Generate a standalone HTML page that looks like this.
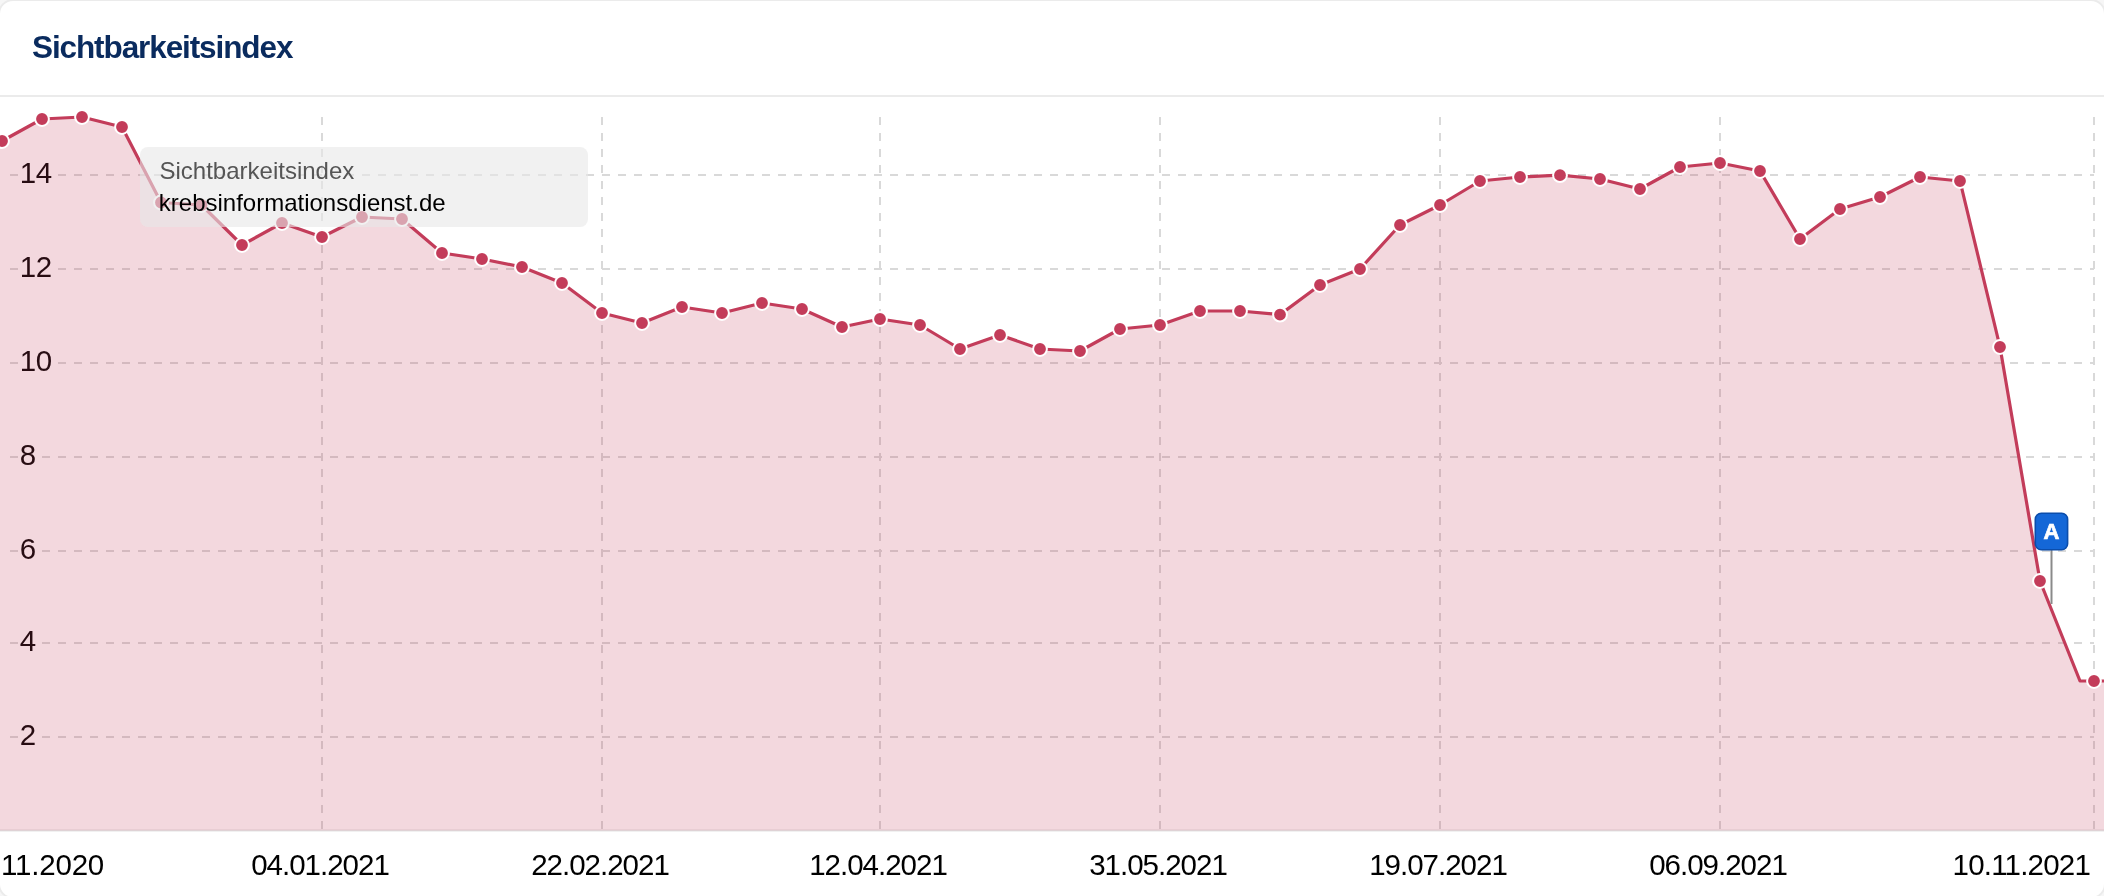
<!DOCTYPE html>
<html><head><meta charset="utf-8"><title>Sichtbarkeitsindex</title>
<style>
html,body{margin:0;padding:0;width:2104px;height:896px;overflow:hidden;background:#f6f6f6;font-family:"Liberation Sans",sans-serif}
.card{position:absolute;left:-2px;top:-1px;width:2104px;height:896px;border:2px solid #ebebeb;border-radius:15px;background:#fff;overflow:hidden}
.title{will-change:transform;position:absolute;left:32px;top:29px;font:bold 31.5px "Liberation Sans",sans-serif;color:#0a2b5e;letter-spacing:-1.1px;white-space:nowrap}
.sep{position:absolute;left:0;top:95px;width:2104px;height:2px;background:#ebebeb}
</style></head><body>
<div class="card"></div>
<div class="title">Sichtbarkeitsindex</div>
<div class="sep"></div>
<svg width="2104" height="896" viewBox="0 0 2104 896" style="position:absolute;left:0;top:0;will-change:transform"><line x1="10" y1="175" x2="2094" y2="175" stroke="#d9d9d9" stroke-width="2" stroke-dasharray="8 8"/><line x1="10" y1="269" x2="2094" y2="269" stroke="#d9d9d9" stroke-width="2" stroke-dasharray="8 8"/><line x1="10" y1="363" x2="2094" y2="363" stroke="#d9d9d9" stroke-width="2" stroke-dasharray="8 8"/><line x1="10" y1="457" x2="2094" y2="457" stroke="#d9d9d9" stroke-width="2" stroke-dasharray="8 8"/><line x1="10" y1="551" x2="2094" y2="551" stroke="#d9d9d9" stroke-width="2" stroke-dasharray="8 8"/><line x1="10" y1="643" x2="2094" y2="643" stroke="#d9d9d9" stroke-width="2" stroke-dasharray="8 8"/><line x1="10" y1="737" x2="2094" y2="737" stroke="#d9d9d9" stroke-width="2" stroke-dasharray="8 8"/><line x1="322" y1="117" x2="322" y2="830" stroke="#d9d9d9" stroke-width="2" stroke-dasharray="8 8"/><line x1="602" y1="117" x2="602" y2="830" stroke="#d9d9d9" stroke-width="2" stroke-dasharray="8 8"/><line x1="880" y1="117" x2="880" y2="830" stroke="#d9d9d9" stroke-width="2" stroke-dasharray="8 8"/><line x1="1160" y1="117" x2="1160" y2="830" stroke="#d9d9d9" stroke-width="2" stroke-dasharray="8 8"/><line x1="1440" y1="117" x2="1440" y2="830" stroke="#d9d9d9" stroke-width="2" stroke-dasharray="8 8"/><line x1="1720" y1="117" x2="1720" y2="830" stroke="#d9d9d9" stroke-width="2" stroke-dasharray="8 8"/><line x1="2094" y1="117" x2="2094" y2="830" stroke="#d9d9d9" stroke-width="2" stroke-dasharray="8 8"/><rect x="20" y="171" width="32" height="8" fill="#fff"/><text x="19.8" y="183" font-family="Liberation Sans" font-size="29.5" fill="#000" letter-spacing="-0.5">14</text><rect x="20" y="265" width="32" height="8" fill="#fff"/><text x="19.8" y="277" font-family="Liberation Sans" font-size="29.5" fill="#000" letter-spacing="-0.5">12</text><rect x="20" y="359" width="32" height="8" fill="#fff"/><text x="19.8" y="371" font-family="Liberation Sans" font-size="29.5" fill="#000" letter-spacing="-0.5">10</text><rect x="20" y="453" width="17" height="8" fill="#fff"/><text x="19.8" y="465" font-family="Liberation Sans" font-size="29.5" fill="#000" letter-spacing="-0.5">8</text><rect x="20" y="547" width="17" height="8" fill="#fff"/><text x="19.8" y="559" font-family="Liberation Sans" font-size="29.5" fill="#000" letter-spacing="-0.5">6</text><rect x="20" y="639" width="17" height="8" fill="#fff"/><text x="19.8" y="651" font-family="Liberation Sans" font-size="29.5" fill="#000" letter-spacing="-0.5">4</text><rect x="20" y="733" width="17" height="8" fill="#fff"/><text x="19.8" y="745" font-family="Liberation Sans" font-size="29.5" fill="#000" letter-spacing="-0.5">2</text><line x1="0" y1="830.5" x2="2104" y2="830.5" stroke="#e3e3e3" stroke-width="2"/><path d="M-20 830.5 L-20 152 L2 141 L42 119 L82 117 L122 127 L161 202.5 L201.5 205 L242 245 L282 223 L322 237 L362 217 L402 219 L442 253 L482 259 L522 267 L562 283 L602 313 L642 323 L682 307 L722 313 L762 303 L802 309 L842 327 L880 319 L920 325 L960 349 L1000 335 L1040 349 L1080 351 L1120 329 L1160 325 L1200 311 L1240 311 L1280 314.6 L1320 285 L1360 269 L1400 225 L1440 205 L1480 181 L1520 177 L1560 175.2 L1600 179 L1640 189 L1680 167 L1720 163 L1760 171 L1800 239 L1840 209 L1880 197 L1920 177 L1960 181 L2000 347 L2040 581 L2080 681 L2094 681 L2120 681 L2120 830.5 Z" fill="rgba(195,60,90,0.2)"/><path d="M-20 152 L2 141 L42 119 L82 117 L122 127 L161 202.5 L201.5 205 L242 245 L282 223 L322 237 L362 217 L402 219 L442 253 L482 259 L522 267 L562 283 L602 313 L642 323 L682 307 L722 313 L762 303 L802 309 L842 327 L880 319 L920 325 L960 349 L1000 335 L1040 349 L1080 351 L1120 329 L1160 325 L1200 311 L1240 311 L1280 314.6 L1320 285 L1360 269 L1400 225 L1440 205 L1480 181 L1520 177 L1560 175.2 L1600 179 L1640 189 L1680 167 L1720 163 L1760 171 L1800 239 L1840 209 L1880 197 L1920 177 L1960 181 L2000 347 L2040 581 L2080 681 L2094 681 L2120 681" fill="none" stroke="#c33c5a" stroke-width="3.2" stroke-linejoin="round" stroke-linecap="round"/><circle cx="2" cy="141" r="6.9" fill="#c33c5a" stroke="#fff" stroke-width="2"/><circle cx="42" cy="119" r="6.9" fill="#c33c5a" stroke="#fff" stroke-width="2"/><circle cx="82" cy="117" r="6.9" fill="#c33c5a" stroke="#fff" stroke-width="2"/><circle cx="122" cy="127" r="6.9" fill="#c33c5a" stroke="#fff" stroke-width="2"/><circle cx="161" cy="202.5" r="6.9" fill="#c33c5a" stroke="#fff" stroke-width="2"/><circle cx="201.5" cy="205" r="6.9" fill="#c33c5a" stroke="#fff" stroke-width="2"/><circle cx="242" cy="245" r="6.9" fill="#c33c5a" stroke="#fff" stroke-width="2"/><circle cx="282" cy="223" r="6.9" fill="#c33c5a" stroke="#fff" stroke-width="2"/><circle cx="322" cy="237" r="6.9" fill="#c33c5a" stroke="#fff" stroke-width="2"/><circle cx="362" cy="217" r="6.9" fill="#c33c5a" stroke="#fff" stroke-width="2"/><circle cx="402" cy="219" r="6.9" fill="#c33c5a" stroke="#fff" stroke-width="2"/><circle cx="442" cy="253" r="6.9" fill="#c33c5a" stroke="#fff" stroke-width="2"/><circle cx="482" cy="259" r="6.9" fill="#c33c5a" stroke="#fff" stroke-width="2"/><circle cx="522" cy="267" r="6.9" fill="#c33c5a" stroke="#fff" stroke-width="2"/><circle cx="562" cy="283" r="6.9" fill="#c33c5a" stroke="#fff" stroke-width="2"/><circle cx="602" cy="313" r="6.9" fill="#c33c5a" stroke="#fff" stroke-width="2"/><circle cx="642" cy="323" r="6.9" fill="#c33c5a" stroke="#fff" stroke-width="2"/><circle cx="682" cy="307" r="6.9" fill="#c33c5a" stroke="#fff" stroke-width="2"/><circle cx="722" cy="313" r="6.9" fill="#c33c5a" stroke="#fff" stroke-width="2"/><circle cx="762" cy="303" r="6.9" fill="#c33c5a" stroke="#fff" stroke-width="2"/><circle cx="802" cy="309" r="6.9" fill="#c33c5a" stroke="#fff" stroke-width="2"/><circle cx="842" cy="327" r="6.9" fill="#c33c5a" stroke="#fff" stroke-width="2"/><circle cx="880" cy="319" r="6.9" fill="#c33c5a" stroke="#fff" stroke-width="2"/><circle cx="920" cy="325" r="6.9" fill="#c33c5a" stroke="#fff" stroke-width="2"/><circle cx="960" cy="349" r="6.9" fill="#c33c5a" stroke="#fff" stroke-width="2"/><circle cx="1000" cy="335" r="6.9" fill="#c33c5a" stroke="#fff" stroke-width="2"/><circle cx="1040" cy="349" r="6.9" fill="#c33c5a" stroke="#fff" stroke-width="2"/><circle cx="1080" cy="351" r="6.9" fill="#c33c5a" stroke="#fff" stroke-width="2"/><circle cx="1120" cy="329" r="6.9" fill="#c33c5a" stroke="#fff" stroke-width="2"/><circle cx="1160" cy="325" r="6.9" fill="#c33c5a" stroke="#fff" stroke-width="2"/><circle cx="1200" cy="311" r="6.9" fill="#c33c5a" stroke="#fff" stroke-width="2"/><circle cx="1240" cy="311" r="6.9" fill="#c33c5a" stroke="#fff" stroke-width="2"/><circle cx="1280" cy="314.6" r="6.9" fill="#c33c5a" stroke="#fff" stroke-width="2"/><circle cx="1320" cy="285" r="6.9" fill="#c33c5a" stroke="#fff" stroke-width="2"/><circle cx="1360" cy="269" r="6.9" fill="#c33c5a" stroke="#fff" stroke-width="2"/><circle cx="1400" cy="225" r="6.9" fill="#c33c5a" stroke="#fff" stroke-width="2"/><circle cx="1440" cy="205" r="6.9" fill="#c33c5a" stroke="#fff" stroke-width="2"/><circle cx="1480" cy="181" r="6.9" fill="#c33c5a" stroke="#fff" stroke-width="2"/><circle cx="1520" cy="177" r="6.9" fill="#c33c5a" stroke="#fff" stroke-width="2"/><circle cx="1560" cy="175.2" r="6.9" fill="#c33c5a" stroke="#fff" stroke-width="2"/><circle cx="1600" cy="179" r="6.9" fill="#c33c5a" stroke="#fff" stroke-width="2"/><circle cx="1640" cy="189" r="6.9" fill="#c33c5a" stroke="#fff" stroke-width="2"/><circle cx="1680" cy="167" r="6.9" fill="#c33c5a" stroke="#fff" stroke-width="2"/><circle cx="1720" cy="163" r="6.9" fill="#c33c5a" stroke="#fff" stroke-width="2"/><circle cx="1760" cy="171" r="6.9" fill="#c33c5a" stroke="#fff" stroke-width="2"/><circle cx="1800" cy="239" r="6.9" fill="#c33c5a" stroke="#fff" stroke-width="2"/><circle cx="1840" cy="209" r="6.9" fill="#c33c5a" stroke="#fff" stroke-width="2"/><circle cx="1880" cy="197" r="6.9" fill="#c33c5a" stroke="#fff" stroke-width="2"/><circle cx="1920" cy="177" r="6.9" fill="#c33c5a" stroke="#fff" stroke-width="2"/><circle cx="1960" cy="181" r="6.9" fill="#c33c5a" stroke="#fff" stroke-width="2"/><circle cx="2000" cy="347" r="6.9" fill="#c33c5a" stroke="#fff" stroke-width="2"/><circle cx="2040" cy="581" r="6.9" fill="#c33c5a" stroke="#fff" stroke-width="2"/><circle cx="2094" cy="681" r="6.9" fill="#c33c5a" stroke="#fff" stroke-width="2"/><line x1="2051.5" y1="550" x2="2051.5" y2="604" stroke="#8a8a8a" stroke-width="2"/><rect x="2035.3" y="513.3" width="32.3" height="36.4" rx="6" fill="#1467d7" stroke="#0b4dab" stroke-width="1.6"/><text x="2051.5" y="538.8" text-anchor="middle" font-family="Liberation Sans" font-weight="bold" font-size="22" fill="#fff" stroke="#fff" stroke-width="0.7">A</text><rect x="140" y="147" width="448" height="80" rx="8" fill="rgba(232,232,232,0.6)"/><text x="159.5" y="178.7" font-family="Liberation Sans" font-size="24" fill="#555">Sichtbarkeitsindex</text><text x="158.8" y="210.8" font-family="Liberation Sans" font-size="24" fill="#000">krebsinformationsdienst.de</text><text x="320" y="875" text-anchor="middle" font-family="Liberation Sans" font-size="29.5" letter-spacing="-1" fill="#000">04.01.2021</text><text x="600" y="875" text-anchor="middle" font-family="Liberation Sans" font-size="29.5" letter-spacing="-1" fill="#000">22.02.2021</text><text x="878" y="875" text-anchor="middle" font-family="Liberation Sans" font-size="29.5" letter-spacing="-1" fill="#000">12.04.2021</text><text x="1158" y="875" text-anchor="middle" font-family="Liberation Sans" font-size="29.5" letter-spacing="-1" fill="#000">31.05.2021</text><text x="1438" y="875" text-anchor="middle" font-family="Liberation Sans" font-size="29.5" letter-spacing="-1" fill="#000">19.07.2021</text><text x="1718" y="875" text-anchor="middle" font-family="Liberation Sans" font-size="29.5" letter-spacing="-1" fill="#000">06.09.2021</text><text x="2090" y="875" text-anchor="end" font-family="Liberation Sans" font-size="29.5" letter-spacing="-0.8" fill="#000">10.11.2021</text><text x="1" y="875" font-family="Liberation Sans" font-size="29.5" letter-spacing="-0.2" fill="#000">11.2020</text></svg>
</body></html>
